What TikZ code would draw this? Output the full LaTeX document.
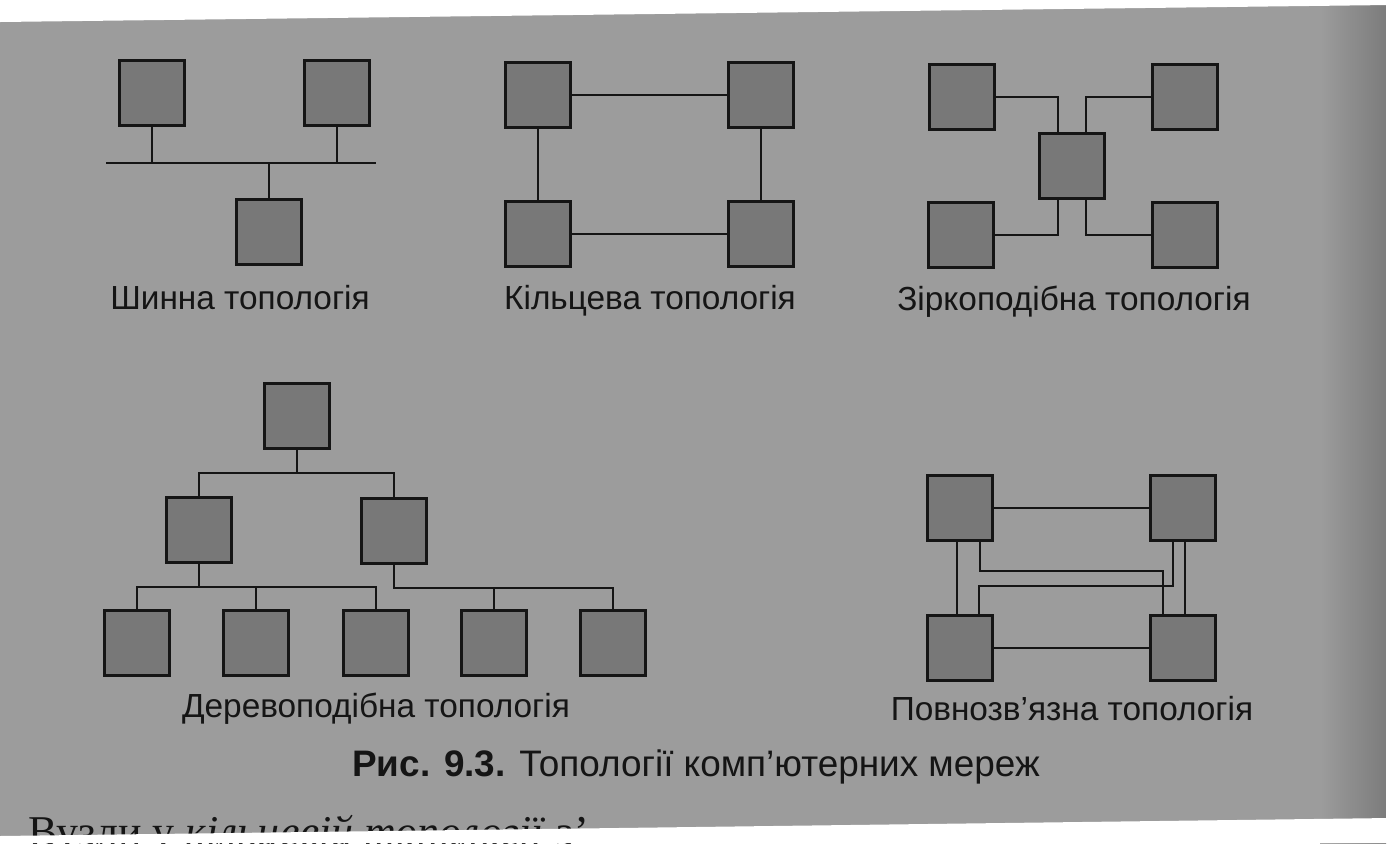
\documentclass[tikz,border=0pt]{standalone}
\usepackage{fontspec}
\setmainfont{Liberation Sans}
\newfontfamily\pagefont{Liberation Serif}
\definecolor{paper}{HTML}{9C9C9C}
\definecolor{shadow}{HTML}{7C7C7C}
\definecolor{boxgray}{HTML}{787878}
\definecolor{ink}{HTML}{151515}

\begin{document}
\begin{tikzpicture}[x=0.02cm, y=-0.02cm]
\tikzstyle{pc} = [draw=ink, fill=boxgray, line width=1.6pt, rectangle, minimum width=1.3cm, minimum height=1.3cm, inner sep=0pt]
\tikzstyle{link} = [draw=ink, line width=1.1pt]
\tikzstyle{title} = [anchor=base, text=ink, font=\fontsize{19}{22}\selectfont]

\useasboundingbox (0,0) rectangle (1390,843);
\fill [paper] (0,0) rectangle (1390,843);
\shade [left color=paper, right color=shadow] (1320,0) rectangle (1386,843);

% bus
\node [pc] (b1) at (152,93) {};
\node [pc] (b2) at (337,93) {};
\node [pc] (b3) at (269,232) {};
\coordinate (busL) at (106,163);
\coordinate (busR) at (376,163);
\path [link] (busL) -- (busR);
\path [link] (b1) -- (b1 |- busL);
\path [link] (b2) -- (b2 |- busL);
\path [link] (b3) -- (b3 |- busL);
\node [title] (busname) at (240,309) {Шинна топологія};

% ring
\node [pc] (r1) at (538,95) {};
\node [pc] (r2) at (761,95) {};
\node [pc] (r3) at (538,234) {};
\node [pc] (r4) at (761,234) {};
\path [link] (r1) -- (r2);
\path [link] (r2) -- (r4);
\path [link] (r4) -- (r3);
\path [link] (r3) -- (r1);
\node [title] (ringname) at (650,309) {Кільцева топологія};

% star
\node [pc] (s0) at (1072,166) {};
\node [pc] (s1) at (962,97) {};
\node [pc] (s2) at (1185,97) {};
\node [pc] (s3) at (961,235) {};
\node [pc] (s4) at (1185,235) {};
\path [link] (s1.east) -| ([xshift=-0.28cm]s0.north);
\path [link] (s2.west) -| ([xshift=0.28cm]s0.north);
\path [link] (s3.east) -| ([xshift=-0.28cm]s0.south);
\path [link] (s4.west) -| ([xshift=0.28cm]s0.south);
\node [title] (starname) at (1074,310) {Зіркоподібна топологія};

% tree
\node [pc] (t0) at (297,416) {};
\node [pc] (t1) at (199,530) {};
\node [pc] (t2) at (394,531) {};
\node [pc] (l1) at (137,643) {};
\node [pc] (l2) at (256,643) {};
\node [pc] (l3) at (376,643) {};
\node [pc] (l4) at (494,643) {};
\node [pc] (l5) at (613,643) {};
\coordinate (j0) at (297,473);
\coordinate (j1) at (199,587);
\coordinate (j2) at (394,588);
\path [link] (t0) -- (j0);
\path [link] (t1.north) |- (j0) -| (t2.north);
\path [link] (t1) -- (j1);
\path [link] (l1.north) |- (j1) -| (l3.north);
\path [link] (l2) -- (l2 |- j1);
\path [link] (t2) -- (j2) -| (l5.north);
\path [link] (l4) -- (l4 |- j2);
\node [title] (treename) at (376,717) {Деревоподібна топологія};

% mesh
\node [pc] (m1) at (960,508) {};
\node [pc] (m2) at (1183,508) {};
\node [pc] (m3) at (960,648) {};
\node [pc] (m4) at (1183,648) {};
\coordinate (k1) at (1070,571);
\coordinate (k2) at (1070,586);
\path [link] (m1) -- (m2);
\path [link] (m3) -- (m4);
\path [link] ([xshift=-0.06cm]m1.south) -- ([xshift=-0.06cm]m3.north);
\path [link] ([xshift=0.04cm]m2.south) -- ([xshift=0.04cm]m4.north);
\path [link] ([xshift=0.4cm]m1.south) |- (k1) -| ([xshift=-0.4cm]m4.north);
\path [link] ([xshift=-0.2cm]m2.south) |- (k2) -| ([xshift=0.38cm]m3.north);
\node [title] (meshname) at (1072,720) {Повнозв’язна топологія};

\node [title, font=\fontsize{21}{24}\selectfont] (figname) at (696,776) {\textbf{Рис. 9.3.} Топології комп’ютерних мереж};
\node [anchor=base west, text=ink, font=\pagefont\fontsize{25}{28}\selectfont] (bodyline) at (22,846) {Вузли у \textit{кільцевій топології} з’};

% scan edges
\fill [white] (0,0) -- (1390,0) -- (1390,5) -- (0,22) -- cycle;
\fill [white] (0,836) -- (1390,818) -- (1390,843) -- (0,843) -- cycle;
\fill [white] (1386,0) rectangle (1390,843);
\end{tikzpicture}
\end{document}
